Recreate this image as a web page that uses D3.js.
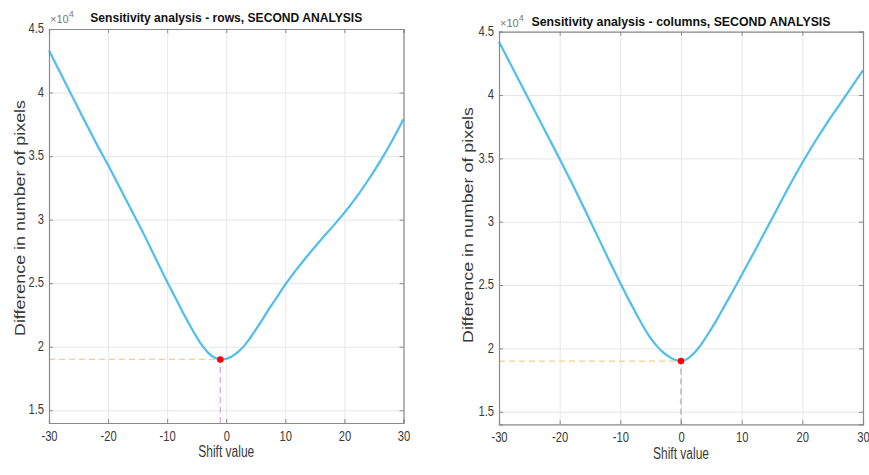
<!DOCTYPE html>
<html><head><meta charset="utf-8">
<script src="https://cdn.jsdelivr.net/npm/d3@7"></script>
<style>
html,body{margin:0;padding:0;background:#fff;}
svg{display:block;font-family:Arial,"Liberation Sans",Helvetica,sans-serif;}
</style></head>
<body>
<svg id="chart" width="869" height="475"></svg>
<script>
// ---- data ----
const xTicks = [-30, -20, -10, 0, 10, 20, 30];
const yTicks = [15000, 20000, 25000, 30000, 35000, 40000, 45000];
const yTickLabels = ["1.5", "2", "2.5", "3", "3.5", "4", "4.5"];

const rowsShift = [-30,-28,-26,-24,-22,-20,-18,-16,-14,-12,-10,-9,-8,-7,-6,-5,-4,-3,-2,-1,0,1,2,3,4,5,6,7,8,9,10,12,14,16,18,20,22,24,26,28,30];
const rowsDiff  = [43300,41470,39640,37800,36000,34300,32500,30700,28900,27000,25100,24200,23300,22400,21550,20750,20050,19500,19150,19000,19050,19250,19600,20050,20650,21350,22050,22800,23500,24200,24900,26150,27300,28400,29450,30550,31750,33100,34550,36150,37900];
const rowsMin = {x: -1, y: 19000};

const colsShift = [-30,-28,-26,-24,-22,-20,-18,-16,-14,-12,-10,-9,-8,-7,-6,-5,-4,-3,-2,-1,0,1,2,3,4,5,6,7,8,9,10,12,14,16,18,20,22,24,26,28,30];
const colsDiff  = [44200,42350,40500,38650,36800,34950,33050,31100,29100,27100,25150,24200,23300,22400,21550,20800,20200,19700,19350,19100,19000,19150,19550,20100,20800,21550,22350,23200,24050,24900,25800,27550,29350,31150,32950,34650,36250,37750,39150,40550,41950];
const colsMin = {x: 0, y: 19000};

const titles = ["Sensitivity analysis - rows, SECOND ANALYSIS", "Sensitivity analysis - columns, SECOND ANALYSIS"];
const xLabel = "Shift value";
const yLabel = "Difference in number of pixels";

// ---- layout ----
const panels = [
  {shift: rowsShift, diff: rowsDiff, min: rowsMin, title: titles[0],
   x0: 49, x1: 403.5, yTop: 29, yBot: 423, titleW: 272, titleY: 22, expX: 50, expY: 23,
   yLabX: 21, yLabY: 218, xLabY: 457, xTickDy: 14, vColor: "#dcb0e4"},
  {shift: colsShift, diff: colsDiff, min: colsMin, title: titles[1],
   x0: 499, x1: 863, yTop: 31.7, yBot: 424.4, titleW: 299, titleY: 25.5, expX: 500, expY: 26.5,
   yLabX: 469, yLabY: 225, xLabY: 459, xTickDy: 14, vColor: "#c7abcd"}
];

const svg = d3.select("#chart");
const axisColor = "#8a8a8a";
const textColor = "#3a3a3a";
const sx = 0.8;

panels.forEach(p => {
  const x = d3.scaleLinear().domain([-30, 30]).range([p.x0, p.x1]);
  const y = d3.scaleLinear().domain([14000, 45000]).range([p.yBot, p.yTop]);
  const w = p.x1 - p.x0, h = p.yBot - p.yTop;
  const g = svg.append("g");

  // grid
  g.append("g").attr("transform", `translate(0,${p.yBot})`)
    .call(d3.axisBottom(x).tickValues(xTicks).tickSize(-h).tickFormat(""))
    .call(a => { a.select(".domain").remove(); a.selectAll("line").attr("stroke", "#e6e6e6"); });
  g.append("g").attr("transform", `translate(${p.x0},0)`)
    .call(d3.axisLeft(y).tickValues(yTicks).tickSize(-w).tickFormat(""))
    .call(a => { a.select(".domain").remove(); a.selectAll("line").attr("stroke", "#e6e6e6"); });

  // dashed guides
  g.append("line").attr("x1", x(-30)).attr("x2", x(p.min.x))
    .attr("y1", y(p.min.y)).attr("y2", y(p.min.y))
    .attr("stroke", "#f3cf8a").attr("stroke-width", 1.2).attr("stroke-dasharray", "6,4");
  g.append("line").attr("x1", x(p.min.x)).attr("x2", x(p.min.x))
    .attr("y1", y(14000)).attr("y2", y(p.min.y))
    .attr("stroke", p.vColor).attr("stroke-width", 1.5).attr("stroke-dasharray", "6,4");

  // curve
  const pts = p.shift.map((s, i) => [s, p.diff[i]]);
  g.append("path").datum(pts)
    .attr("fill", "none").attr("stroke", "#4DBEEE").attr("stroke-width", 2.2)
    .attr("d", d3.line().x(d => x(d[0])).y(d => y(d[1])).curve(d3.curveMonotoneX));

  g.append("circle").attr("cx", x(p.min.x)).attr("cy", y(p.min.y)).attr("r", 3.3).attr("fill", "#ff0000");

  // axes (ticks inside, box)
  const bottom = g.append("g").attr("transform", `translate(0,${p.yBot})`)
    .call(d3.axisBottom(x).tickValues(xTicks).tickSize(-4).tickPadding(0).tickFormat(d => d));
  const top = g.append("g").attr("transform", `translate(0,${p.yTop})`)
    .call(d3.axisTop(x).tickValues(xTicks).tickSize(-4).tickFormat(""));
  const left = g.append("g").attr("transform", `translate(${p.x0},0)`)
    .call(d3.axisLeft(y).tickValues(yTicks).tickSize(-4).tickFormat((d, i) => yTickLabels[i]));
  const right = g.append("g").attr("transform", `translate(${p.x1},0)`)
    .call(d3.axisRight(y).tickValues(yTicks).tickSize(-4).tickFormat(""));
  [bottom, top, left, right].forEach(a => {
    a.select(".domain").attr("stroke", axisColor).attr("stroke-width", 1.2);
    a.selectAll(".tick line").attr("stroke", axisColor);
  });
  bottom.selectAll(".tick text")
    .attr("y", null).attr("dy", null)
    .attr("fill", textColor).attr("font-size", 14)
    .attr("text-anchor", "middle").attr("dominant-baseline", "middle")
    .attr("transform", `translate(0,${p.xTickDy}) scale(${sx},1)`);
  left.selectAll(".tick text")
    .attr("x", null).attr("dy", null)
    .attr("fill", textColor).attr("font-size", 14)
    .attr("text-anchor", "end").attr("dominant-baseline", "middle")
    .attr("transform", `translate(-5,0) scale(${sx},1)`);

  // title
  g.append("text").attr("x", (p.x0 + p.x1) / 2).attr("y", p.titleY)
    .attr("text-anchor", "middle").attr("font-weight", "bold").attr("font-size", 13.5)
    .attr("fill", "#111").attr("textLength", p.titleW).attr("lengthAdjust", "spacingAndGlyphs")
    .text(p.title);

  // exponent
  const ex = g.append("text").attr("x", p.expX).attr("y", p.expY)
    .attr("fill", "#777").attr("font-size", 11);
  ex.append("tspan").text("\u00d710");
  ex.append("tspan").attr("dy", -6).attr("font-size", 9).text("4");

  // axis labels
  g.append("text").attr("x", (p.x0 + p.x1) / 2).attr("y", p.xLabY)
    .attr("text-anchor", "middle").attr("font-size", 16).attr("fill", textColor)
    .attr("textLength", 56).attr("lengthAdjust", "spacingAndGlyphs")
    .text(xLabel);
  g.append("text").attr("transform", `translate(${p.yLabX},${p.yLabY}) rotate(-90)`)
    .attr("text-anchor", "middle").attr("dominant-baseline", "middle")
    .attr("font-size", 15).attr("fill", textColor)
    .attr("textLength", 236).attr("lengthAdjust", "spacingAndGlyphs")
    .text(yLabel);
});
</script>
</body></html>
